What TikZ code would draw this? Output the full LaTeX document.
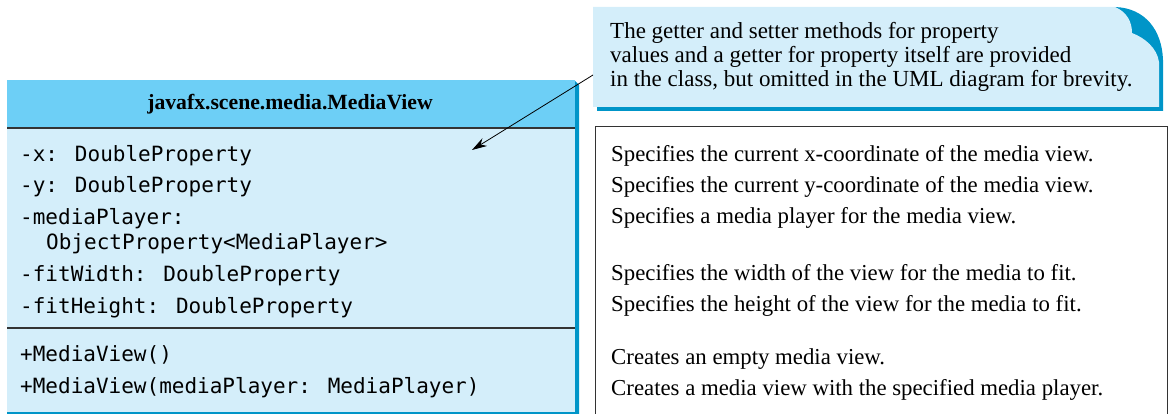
\documentclass[tikz,border=0pt]{standalone}
\usepackage{fontspec}
\setmainfont{Liberation Serif}
\newfontfamily\umlmono{DejaVu Sans Mono}
\usetikzlibrary{arrows.meta}
\definecolor{hdrblue}{HTML}{6DCFF6}
\definecolor{bodyblue}{HTML}{D4EEFA}
\definecolor{darkblue}{HTML}{0095C8}
\definecolor{rulegray}{HTML}{333333}
\tikzset{
  monotext/.style={anchor=base west, inner sep=0pt, font=\umlmono\fontsize{21}{24}\selectfont},
  desctext/.style={anchor=base west, inner sep=0pt, font=\fontsize{22.8}{26}\selectfont},
  notetext/.style={anchor=base west, inner sep=0pt, font=\fontsize{23}{26}\selectfont},
  hdrtext/.style={anchor=base, inner sep=0pt, font=\bfseries\fontsize{21.7}{24}\selectfont},
  ruleline/.style={draw=rulegray, line width=1.1pt},
}
\begin{document}
\begin{tikzpicture}[x=1pt,y=-1pt]
\useasboundingbox (0,0) rectangle (1170,414);
\begin{scope}
\clip (0,0) rectangle (1170,414);
% UML class box
\fill[bodyblue] (7,80) rectangle (575,420);
\fill[hdrblue] (7,80) rectangle (575,128);
\fill[darkblue] (575,81) -- (579,85) -- (579,420) -- (575,420) -- cycle;
\draw[darkblue, line width=1.5pt] (7,413) -- (579,413);
\draw[ruleline] (7,128) -- (575,128);
\draw[ruleline] (7,328) -- (575,328);
\node[hdrtext] (hdr) at (290,110) {javafx.scene.media.MediaView};
\node[monotext] (a1) at (20,162) {-x: DoubleProperty};
\node[monotext] (a2) at (20,193) {-y: DoubleProperty};
\node[monotext] (a3) at (20,225) {-mediaPlayer:};
\node[monotext] (a3b) at (46,249) {ObjectProperty<MediaPlayer>};
\node[monotext] (a4) at (20,281) {-fitWidth: DoubleProperty};
\node[monotext] (a5) at (20,313) {-fitHeight: DoubleProperty};
\node[monotext] (m1) at (20,361) {+MediaView()};
\node[monotext] (m2) at (20,393) {+MediaView(mediaPlayer: MediaPlayer)};
% description box
\draw[rulegray, line width=1pt] (595,127) rectangle (1167,430);
\node[desctext] (d1) at (611,162) {Specifies the current x-coordinate of the media view.};
\node[desctext] (d2) at (611,193) {Specifies the current y-coordinate of the media view.};
\node[desctext] (d3) at (611,224) {Specifies a media player for the media view.};
\node[desctext] (d4) at (611,280) {Specifies the width of the view for the media to fit.};
\node[desctext] (d5) at (611,311) {Specifies the height of the view for the media to fit.};
\node[desctext] (d6) at (611,364) {Creates an empty media view.};
\node[desctext] (d7) at (611,395) {Creates a media view with the specified media player.};
\end{scope}
% note
\fill[darkblue] (597,107) -- (1115,7) .. controls (1145,8) and (1162,30) .. (1163,60) -- (1163,111) -- (597,111) -- cycle;
\fill[bodyblue] (593,7) -- (1115,7) .. controls (1127,12) and (1132,22) .. (1132,33) .. controls (1145,38) and (1157,48) .. (1159,62) -- (1159,107) -- (593,107) -- cycle;
\node[notetext] (n1) at (610,39) {The getter and setter methods for property};
\node[notetext] (n2) at (610,63) {values and a getter for property itself are provided};
\node[notetext] (n3) at (610,87) {in the class, but omitted in the UML diagram for brevity.};
% arrow
\coordinate (notept) at (593,75);
\coordinate (target) at (472,150);
\draw[black, line width=0.8pt, -{Stealth[length=15pt,width=9pt]}] (notept) -- (target);
\end{tikzpicture}
\end{document}
